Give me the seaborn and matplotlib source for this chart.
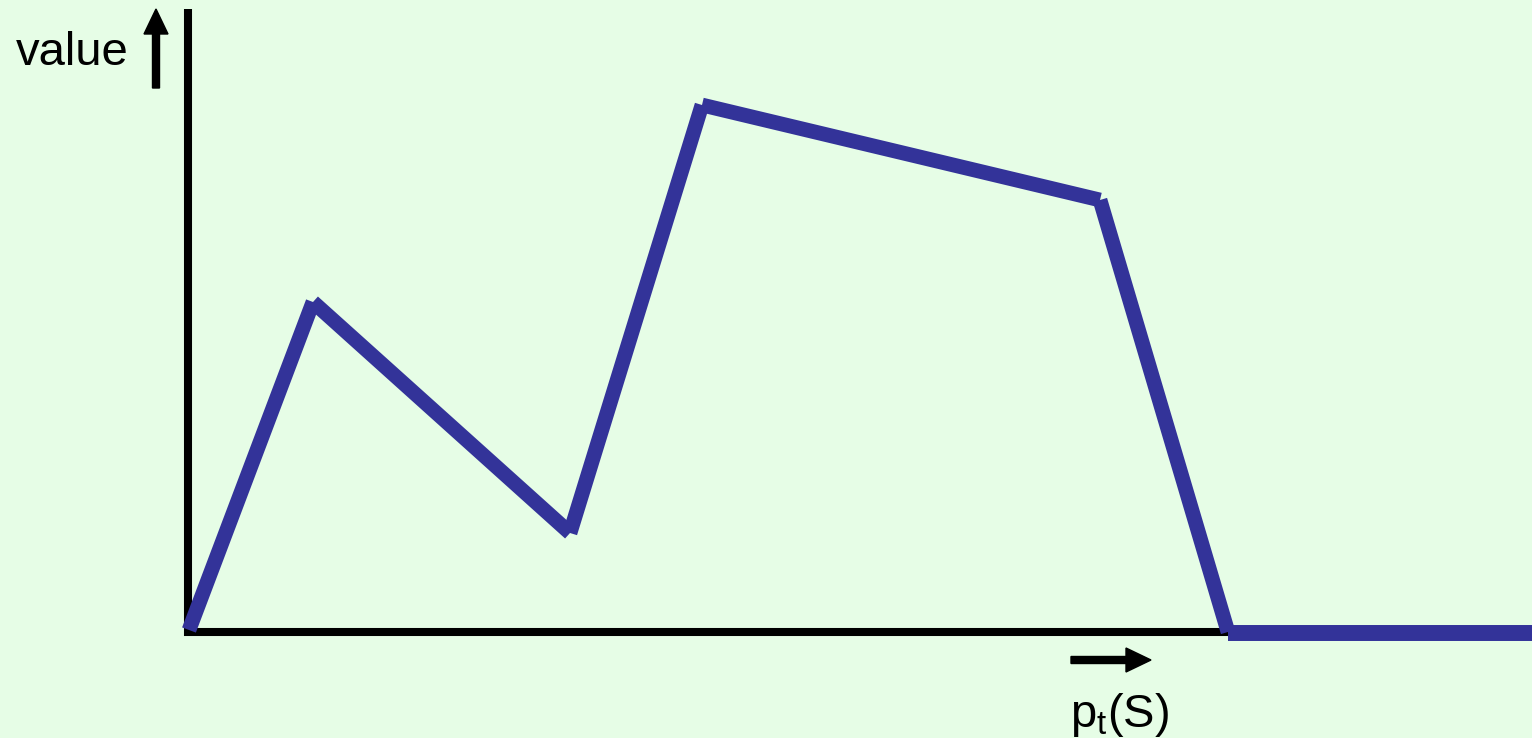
import seaborn as sns
import pandas as pd
import matplotlib.pyplot as plt

sns.set_theme(style='white')
plt.rcParams['font.family'] = ['Liberation Sans', 'DejaVu Sans']
plt.rcParams['mathtext.fontset'] = 'custom'
plt.rcParams['mathtext.rm'] = 'Liberation Sans'
plt.rcParams['mathtext.it'] = 'Liberation Sans'

# vertices of the value curve (p_t(S) vs value), each piece drawn on its own
seg_start_x = [0.01, 1.25, 3.82, 5.14, 9.12, 10.40]
seg_start_y = [0.02, 3.30, 0.99, 5.27, 4.32, -0.01]
seg_end_x = [1.25, 3.82, 5.14, 9.12, 10.40, 13.50]
seg_end_y = [3.30, 0.99, 5.27, 4.32, 0.00, -0.01]
seg_width = [10.6, 10.6, 10.6, 10.6, 10.6, 11.5]

bg = '#e6fde6'
blue = '#333399'

fig = plt.figure(figsize=(15.32, 7.38), dpi=100, facecolor=bg)
ax = fig.add_axes([0, 0, 1, 1], facecolor=bg)

for i in range(len(seg_start_x)):
    seg = pd.DataFrame({'x': [seg_start_x[i], seg_end_x[i]],
                        'y': [seg_start_y[i], seg_end_y[i]]})
    sns.lineplot(data=seg, x='x', y='y', ax=ax, color=blue,
                 lw=seg_width[i], solid_capstyle='butt')

ax.set_xlim(-1.88, 13.44)
ax.set_ylim(-1.06, 6.32)
ax.set_xlabel('')
ax.set_ylabel('')
ax.set_xticks([])
ax.set_yticks([])

# axes drawn as thick black lines through the origin
for side in ['top', 'right']:
    ax.spines[side].set_visible(False)
ax.spines['left'].set_position(('data', 0))
ax.spines['bottom'].set_position(('data', 0))
ax.spines['left'].set_bounds(-0.04, 6.23)
ax.spines['bottom'].set_bounds(-0.04, 10.40)
for side in ['left', 'bottom']:
    ax.spines[side].set_color('black')
    ax.spines[side].set_linewidth(5.8)
    ax.spines[side].set_capstyle('butt')
    ax.spines[side].set_zorder(1)

# direction arrows
ax.arrow(-0.32, 5.44, 0, 0.79, width=0.07, head_width=0.24, head_length=0.25,
         length_includes_head=True, color='black')
ax.arrow(8.83, -0.28, 0.80, 0, width=0.07, head_width=0.24, head_length=0.25,
         length_includes_head=True, color='black')

ax.text(-1.72, 5.67, 'value', fontsize=34, color='black', ha='left', va='baseline')
ax.text(8.82, -0.95, r'$\mathregular{p_t(S)}$', fontsize=34, color='black',
        ha='left', va='baseline')

fig.savefig('out.png', dpi=100, facecolor=bg)
